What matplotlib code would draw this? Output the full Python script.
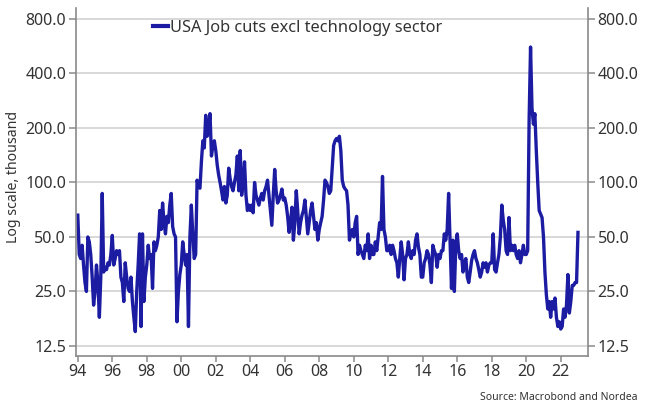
import matplotlib
matplotlib.use("Agg")
from matplotlib import pyplot as plt
from matplotlib.ticker import FixedLocator, FuncFormatter
import numpy as np

plt.rcParams['font.family'] = ['Noto Sans', 'DejaVu Sans']

# monthly job cuts excl. technology, thousand, Jan 1994 .. Jan 2023
cuts_94_03 = [
    66, 40, 38, 45, 35, 28, 25, 50, 47, 40, 30, 21,
    25, 35, 28, 18, 30, 87, 32, 34, 33, 36, 35, 40,
    51, 35, 38, 42, 40, 42, 30, 28, 22, 36, 30, 26,
    25, 30, 22, 18, 15, 25, 35, 52, 16, 52, 22, 30,
    35, 45, 38, 40, 26, 47, 42, 45, 50, 70, 55, 77,
    60, 52, 65, 60, 75, 87, 57, 52, 50, 17, 25, 31,
    35, 47, 40, 35, 40, 16, 50, 75, 52, 38, 40, 103,
    95, 93, 130, 170, 155, 235, 180, 200, 240, 140, 160, 170,
    150, 125, 110, 100, 90, 80, 95, 77, 85, 120, 105, 95,
    90, 100, 110, 140, 90, 150, 85, 100, 130, 85, 70, 75,
]
cuts_04_13 = [
    70, 75, 68, 100, 85, 80, 75, 82, 87, 80, 90, 95,
    103, 85, 70, 58, 85, 118, 90, 77, 80, 85, 92, 80,
    82, 75, 65, 53, 60, 73, 48, 60, 90, 70, 52, 60,
    66, 70, 80, 65, 52, 60, 70, 77, 65, 55, 60, 48,
    55, 60, 65, 80, 103, 100, 95, 87, 90, 120, 160, 170,
    175, 170, 180, 150, 103, 95, 92, 90, 75, 48, 52, 55,
    50, 60, 65, 40, 45, 42, 40, 38, 45, 42, 52, 38,
    45, 40, 40, 47, 42, 50, 60, 55, 108, 55, 50, 42,
    42, 45, 40, 45, 42, 38, 36, 30, 38, 47, 40, 29,
    38, 40, 47, 40, 38, 42, 40, 48, 52, 44, 40, 30,
]
cuts_14_23 = [
    30, 36, 38, 42, 40, 35, 28, 45, 42, 40, 34, 40,
    38, 42, 42, 52, 48, 55, 87, 48, 26, 48, 25, 45,
    52, 42, 38, 40, 32, 36, 38, 30, 28, 32, 37, 40,
    42, 38, 36, 33, 30, 32, 36, 34, 36, 32, 35, 36,
    36, 52, 33, 32, 36, 40, 50, 75, 62, 55, 42, 40,
    64, 42, 45, 42, 45, 40, 38, 42, 36, 40, 45, 40,
    40, 42, 220, 560, 258, 210, 240, 150, 100, 70, 67, 64,
    50, 32, 24, 20, 22, 18, 22, 20, 23, 18, 16, 17,
    15.5, 16, 20, 18, 21, 31, 19, 22, 27, 27, 28, 28,
    53,
]
cuts = np.array(cuts_94_03 + cuts_04_13 + cuts_14_23, dtype=float)
years = 1994 + np.arange(len(cuts)) / 12.0

y_ticks = [12.5, 25, 50, 100, 200, 400, 800]
x_ticks = list(range(1994, 2023, 2))
x_labels = ['94', '96', '98', '00', '02', '04', '06', '08', '10', '12',
            '14', '16', '18', '20', '22']

fig = plt.figure(figsize=(6.45, 4.09), dpi=100)
ax = fig.add_axes([0.1174, 0.1296, 0.7942, 0.8508])

ax.plot(years, cuts, color='#1c1ca3', lw=2.4,
        label='USA Job cuts excl technology sector')

ax.set_yscale('log')
ax.set_ylim(11.0, 920)
ax.set_xlim(1993.88, 2023.58)
ax.yaxis.set_major_locator(FixedLocator(y_ticks))
ax.yaxis.set_minor_locator(FixedLocator([]))
ax.yaxis.set_major_formatter(FuncFormatter(lambda v, p: '%.1f' % v))
ax.set_xticks(x_ticks)
ax.set_xticklabels(x_labels)

ax.grid(axis='y', color='#d6d6d6', lw=1.3)
ax.set_axisbelow(True)
for s in ['left', 'right', 'bottom']:
    ax.spines[s].set_color('#8a8a8a')
    ax.spines[s].set_linewidth(1.2)
ax.spines['top'].set_visible(False)
ax.tick_params(axis='y', which='both', left=True, right=True,
               labelleft=True, labelright=True, direction='out',
               length=5, width=1.1, color='#8a8a8a', labelsize=11.5,
               labelcolor='#333333', pad=2)
ax.tick_params(axis='x', direction='out', length=4, width=1.1,
               color='#8a8a8a', labelsize=11.5, labelcolor='#333333', pad=2)

leg = ax.legend(loc='upper left', bbox_to_anchor=(0.151, 0.965), frameon=False,
                fontsize=11.8, handlelength=0.9, handletextpad=0.15,
                borderpad=0, borderaxespad=0, labelcolor='#333333')
for h in leg.get_lines():
    h.set_linewidth(3.0)

fig.text(0.021, 0.567, 'Log scale, thousand', rotation=90, ha='center',
         va='center', fontsize=10.2, color='#333333')
fig.text(0.988, 0.027, 'Source: Macrobond and Nordea', ha='right',
         va='center', fontsize=7.5, color='#333333')

fig.savefig('out.png', dpi=100)
